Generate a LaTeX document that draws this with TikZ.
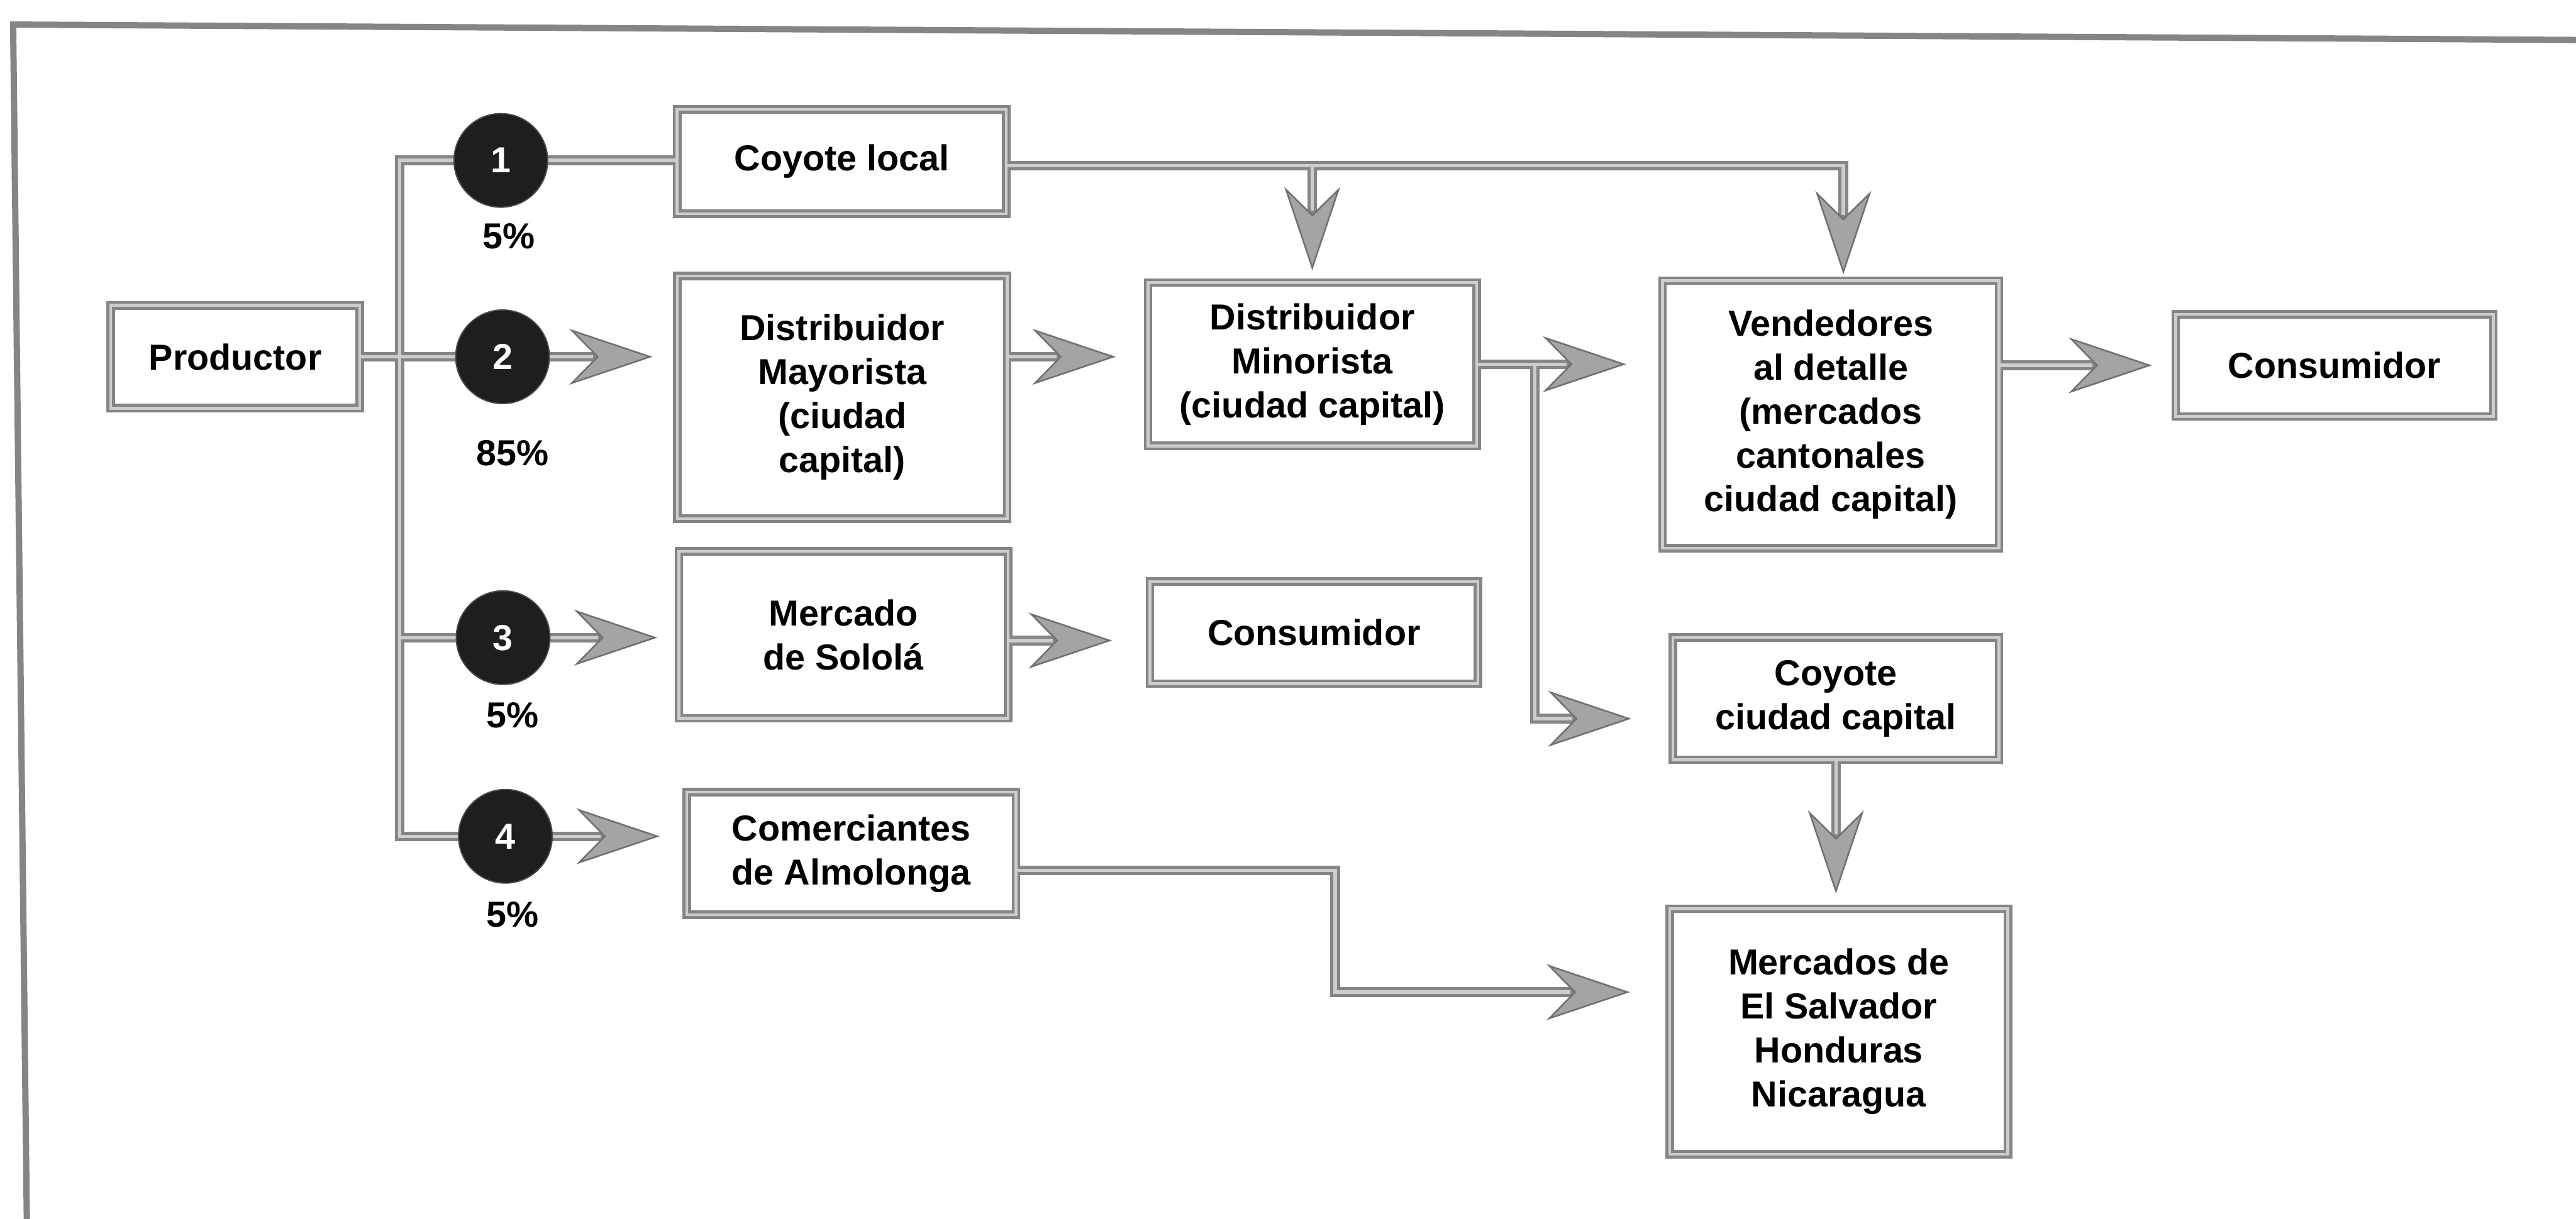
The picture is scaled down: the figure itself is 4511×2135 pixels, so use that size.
\documentclass[tikz,border=0pt]{standalone}
\usepackage{fontspec}
\setmainfont{Liberation Sans}
\usetikzlibrary{arrows.meta,calc}

\definecolor{edge}{HTML}{858585}
\definecolor{stripe}{HTML}{CDCDCD}
\definecolor{tipfill}{HTML}{A4A4A4}
\definecolor{tipline}{HTML}{707070}
\definecolor{dot}{HTML}{1E1E1E}

\tikzset{
  txt/.style={font=\fontsize{18}{21.9}\selectfont\bfseries, text=black},
  box/.style={txt, draw=edge, double=stripe, line width=0.05cm,
    double distance=0.05cm, fill=white, align=center, inner sep=0pt},
  num/.style={circle, fill=dot, draw=dot!80!white, line width=0.6pt,
    minimum size=1.64cm, inner sep=0pt, text=white,
    font=\fontsize{18}{21.9}\selectfont\bfseries},
  pct/.style={txt, anchor=base},
  wireout/.style={draw=edge, line width=0.17cm},
  wirein/.style={draw=stripe, line width=0.06cm},
  tip/.style={-{Stealth[length=1.46cm, width=0.98cm, inset=0.48cm,
    fill=tipfill, color=tipline, line width=0.8pt]}},
  arrowout/.style={wireout, tip, shorten >=#1},
  arrowin/.style={wirein, shorten >=#1+1.04cm},
}

% every connector, drawn once per pass so that junctions merge cleanly
\newcommand\flows[2]{%
  \draw[#1] (c1) -- (tkt) -- (tkb) -- (c4);
  \draw[#1] (tkt |- c3) -- (c3);
  \draw[#1] (prod.east) -- (c2);
  \draw[#1] (c1) -- (c1 -| coyl.west);
  \draw[#2=0.41cm] (c2) -- (c2 -| mayor.west);
  \draw[#2=0.54cm] (c2 -| mayor.east) -- (c2 -| minor.west);
  \draw[#2=0.61cm] (minor.east) -- (minor.east -| vend.west);
  \draw[#2=0.39cm] (cons1.west -| vend.east) -- (cons1.west);
  \draw[#2=0.09cm] (coyl.east |- vdrop) -- (vdrop) -- (vdrop |- vend.north);
  \draw[#2=0.19cm] (minor.north |- vdrop) -- (minor.north);
  \draw[#2=0.35cm] (c3) -- (c3 -| sol.west);
  \draw[#2=0.64cm] (sol.east |- sy) -- (cons2.west |- sy);
  \draw[#2=0.45cm] (c4) -- (c4 -| comer.west);
  \draw[#2=0.67cm] (comer.east |- abend) -- (abend) -- (ain) -- (ain -| merc.west);
  \draw[#2=0.70cm] (minor.east -| bx) -- (bx) -- (bx -| coyc.west);
  \draw[#2=0.24cm] (coyc.south) -- (coyc.south |- merc.north);
}

\begin{document}
\begin{tikzpicture}[x=0.01cm, y=-0.01cm]
  \useasboundingbox (0,0) rectangle (4511,2135);
  \fill[white] (0,0) rectangle (4511,2135);

  % outer frame (open at the bottom and on the right)
  \draw[edge, line width=0.11cm] (47,2140) -- (23,43) -- (4515,70);

  % boxes
  \node[box, minimum width=4.36cm, minimum height=1.8cm]  (prod)  at (412,625)  {Productor};
  \node[box, minimum width=5.76cm, minimum height=1.83cm] (coyl)  at (1474,283) {Coyote local};
  \node[box, minimum width=5.77cm, minimum height=4.25cm] (mayor) at (1475,696) {Distribuidor\\Mayorista\\(ciudad\\capital)};
  \node[box, minimum width=5.75cm, minimum height=2.86cm] (minor) at (2298,638) {Distribuidor\\Minorista\\(ciudad capital)};
  \node[box, minimum width=5.89cm, minimum height=4.68cm] (vend)  at (3206,726) {Vendedores\\al detalle\\(mercados\\cantonales\\ciudad capital)};
  \node[box, minimum width=5.56cm, minimum height=1.79cm] (cons1) at (4088,640) {Consumidor};
  \node[box, minimum width=5.76cm, minimum height=2.92cm] (sol)   at (1477,1112) {Mercado\\de Solol\'a};
  \node[box, minimum width=5.74cm, minimum height=1.79cm] (cons2) at (2301,1108) {Consumidor};
  \node[box, minimum width=5.76cm, minimum height=2.15cm] (comer) at (1491,1495) {Comerciantes\\de Almolonga};
  \node[box, minimum width=5.71cm, minimum height=2.14cm] (coyc)  at (3215,1224) {Coyote\\ciudad capital};
  \node[box, minimum width=5.92cm, minimum height=4.30cm] (merc)  at (3220,1807) {Mercados de\\El Salvador\\Honduras\\Nicaragua};

  % routing points
  \coordinate (c1) at (877,281);
  \coordinate (c2) at (880,625);
  \coordinate (c3) at (881,1117);
  \coordinate (c4) at (885,1465);
  \coordinate (tkt) at (700,281);
  \coordinate (tkb) at (700,1465);
  \coordinate (vdrop) at (3228,290);
  \coordinate (sy) at (0,1122);
  \coordinate (abend) at (2338,1525);
  \coordinate (ain) at (2338,1738);
  \coordinate (bx) at (2688,1259);

  % connectors: grey body with tips, then the light inner stripe
  \flows{wireout}{arrowout}
  \flows{wirein}{arrowin}

  % numbered channels
  \node[num] (n1) at (c1) {1};
  \node[num] (n2) at (c2) {2};
  \node[num] (n3) at (c3) {3};
  \node[num] (n4) at (c4) {4};

  % shares
  \node[pct] (p1) at (891,436)  {5\%};
  \node[pct] (p2) at (898,816)  {85\%};
  \node[pct] (p3) at (898,1275) {5\%};
  \node[pct] (p4) at (898,1624) {5\%};
\end{tikzpicture}
\end{document}
